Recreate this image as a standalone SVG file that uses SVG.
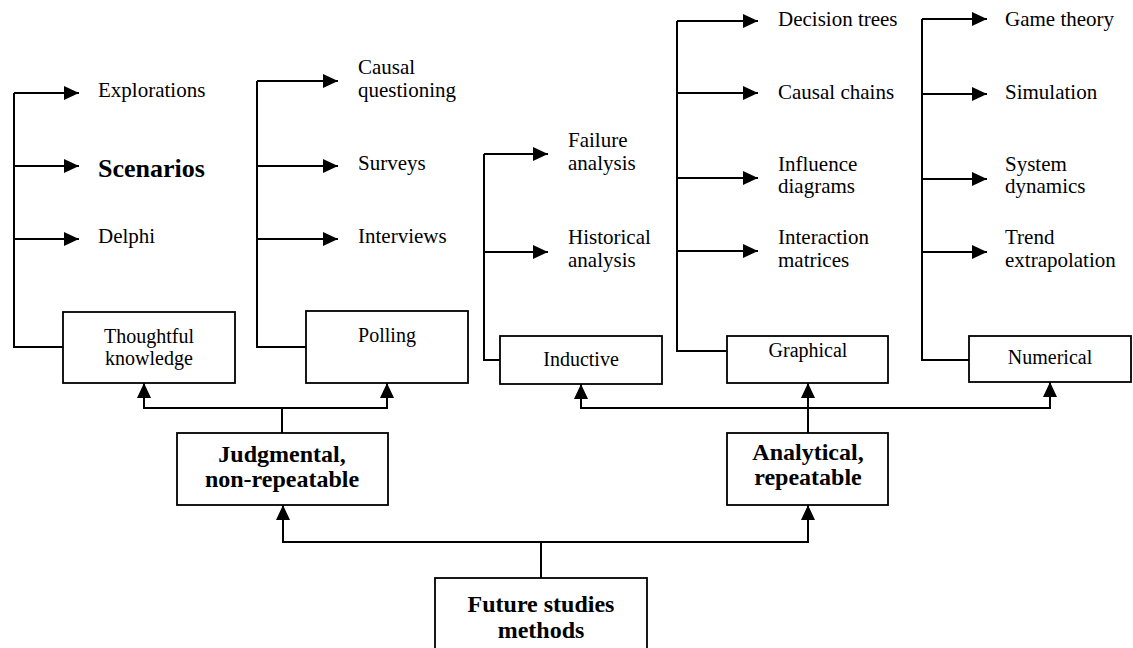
<svg xmlns="http://www.w3.org/2000/svg" width="1133" height="648" viewBox="0 0 1133 648">
  <style>
    .box { fill: #fff; stroke: #000; stroke-width: 1.8; }
    .ln { fill: none; stroke: #000; stroke-width: 2; }
    .arr { fill: none; stroke: #000; stroke-width: 2; marker-end: url(#ah); }
    text { fill: #000; }
    .lbl { font-size: 21px; }
    .ctr { font-size: 20px; text-anchor: middle; }
    .bold { font-size: 24px; font-weight: bold; text-anchor: middle; }
  </style>
  <defs>
    <marker id="ah" markerUnits="userSpaceOnUse" markerWidth="15" markerHeight="14" refX="15" refY="7" orient="auto">
      <path d="M0,0 L15,7 L0,14 z" fill="#000"/>
    </marker>
  </defs>
  <rect width="1133" height="648" fill="#fff"/>

  <g id="connectors">
    <!-- Thoughtful knowledge bracket -->
    <path class="ln" d="M63,347 H14 V93"/>
    <line class="arr" x1="14" y1="93" x2="79" y2="93"/>
    <line class="arr" x1="14" y1="166" x2="79" y2="166"/>
    <line class="arr" x1="14" y1="239" x2="79" y2="239"/>
    <!-- Polling bracket -->
    <path class="ln" d="M306,347 H257 V81"/>
    <line class="arr" x1="257" y1="81" x2="338" y2="81"/>
    <line class="arr" x1="257" y1="166" x2="338" y2="166"/>
    <line class="arr" x1="257" y1="239" x2="338" y2="239"/>
    <!-- Inductive bracket -->
    <path class="ln" d="M500,360 H484 V154"/>
    <line class="arr" x1="484" y1="154" x2="548" y2="154"/>
    <line class="arr" x1="484" y1="252" x2="548" y2="252"/>
    <!-- Graphical bracket -->
    <path class="ln" d="M727,351 H677 V21"/>
    <line class="arr" x1="677" y1="21" x2="758" y2="21"/>
    <line class="arr" x1="677" y1="93" x2="758" y2="93"/>
    <line class="arr" x1="677" y1="178" x2="758" y2="178"/>
    <line class="arr" x1="677" y1="251" x2="758" y2="251"/>
    <!-- Numerical bracket -->
    <path class="ln" d="M969,360 H922 V19"/>
    <line class="arr" x1="922" y1="19" x2="987" y2="19"/>
    <line class="arr" x1="922" y1="94" x2="987" y2="94"/>
    <line class="arr" x1="922" y1="179" x2="987" y2="179"/>
    <line class="arr" x1="922" y1="252" x2="987" y2="252"/>

    <!-- Judgmental to its two families -->
    <line class="ln" x1="282" y1="433" x2="282" y2="408"/>
    <path class="arr" d="M282,408 H144 V383"/>
    <path class="arr" d="M282,408 H387 V383"/>
    <!-- Analytical to its three families -->
    <line class="arr" x1="808" y1="433" x2="808" y2="383"/>
    <path class="arr" d="M808,408 H581 V384"/>
    <path class="arr" d="M808,408 H1050 V382"/>
    <!-- Root to the two branches -->
    <line class="ln" x1="541" y1="578" x2="541" y2="542"/>
    <path class="arr" d="M541,542 H283 V505"/>
    <path class="arr" d="M541,542 H808 V505"/>
  </g>

  <g font-family="'Liberation Serif', 'DejaVu Serif', serif">
  <g id="leaf-thoughtful">
    <text class="lbl" x="98" y="97">Explorations</text>
    <text x="98" y="177" font-size="26" font-weight="bold">Scenarios</text>
    <text class="lbl" x="98" y="243">Delphi</text>
  </g>
  <g id="leaf-polling">
    <text class="lbl" x="358" y="74">Causal</text>
    <text class="lbl" x="358" y="97">questioning</text>
    <text class="lbl" x="358" y="170">Surveys</text>
    <text class="lbl" x="358" y="243">Interviews</text>
  </g>
  <g id="leaf-inductive">
    <text class="lbl" x="568" y="147">Failure</text>
    <text class="lbl" x="568" y="170">analysis</text>
    <text class="lbl" x="568" y="244">Historical</text>
    <text class="lbl" x="568" y="267">analysis</text>
  </g>
  <g id="leaf-graphical">
    <text class="lbl" x="778" y="26">Decision trees</text>
    <text class="lbl" x="778" y="99">Causal chains</text>
    <text class="lbl" x="778" y="171">Influence</text>
    <text class="lbl" x="778" y="193">diagrams</text>
    <text class="lbl" x="778" y="244">Interaction</text>
    <text class="lbl" x="778" y="267">matrices</text>
  </g>
  <g id="leaf-numerical">
    <text class="lbl" x="1005" y="26">Game theory</text>
    <text class="lbl" x="1005" y="99">Simulation</text>
    <text class="lbl" x="1005" y="171">System</text>
    <text class="lbl" x="1005" y="193">dynamics</text>
    <text class="lbl" x="1005" y="244">Trend</text>
    <text class="lbl" x="1005" y="267">extrapolation</text>
  </g>

  <g id="node-thoughtful">
    <rect class="box" x="63" y="312" width="172" height="71"/>
    <text class="ctr" x="149" y="343">Thoughtful</text>
    <text class="ctr" x="149" y="365">knowledge</text>
  </g>
  <g id="node-polling">
    <rect class="box" x="306" y="311" width="162" height="72"/>
    <text class="ctr" x="387" y="342">Polling</text>
  </g>
  <g id="node-inductive">
    <rect class="box" x="500" y="336" width="162" height="48"/>
    <text class="ctr" x="581" y="366">Inductive</text>
  </g>
  <g id="node-graphical">
    <rect class="box" x="727" y="336" width="161" height="47"/>
    <text class="ctr" x="808" y="357">Graphical</text>
  </g>
  <g id="node-numerical">
    <rect class="box" x="969" y="336" width="162" height="46"/>
    <text class="ctr" x="1050" y="364">Numerical</text>
  </g>
  <g id="node-judgmental">
    <rect class="box" x="177" y="433" width="211" height="72"/>
    <text class="bold" x="282" y="462">Judgmental,</text>
    <text class="bold" x="282" y="487">non-repeatable</text>
  </g>
  <g id="node-analytical">
    <rect class="box" x="727" y="433" width="161" height="72"/>
    <text class="bold" x="808" y="460">Analytical,</text>
    <text class="bold" x="808" y="485">repeatable</text>
  </g>
  <g id="node-root">
    <rect class="box" x="435" y="578" width="212" height="90"/>
    <text class="bold" x="541" y="612">Future studies</text>
    <text class="bold" x="541" y="638">methods</text>
  </g>
  </g>
</svg>
